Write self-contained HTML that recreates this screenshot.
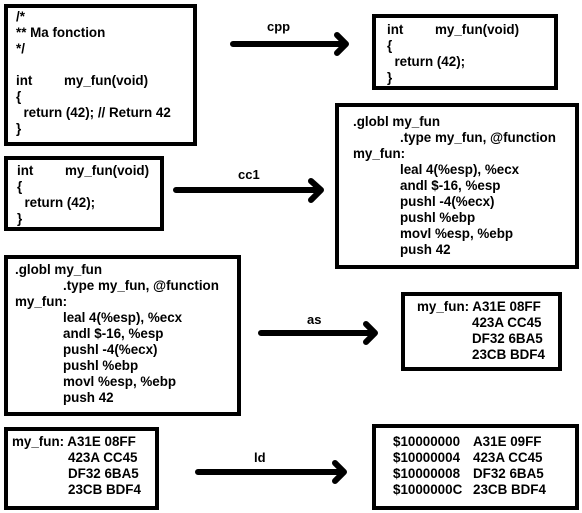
<!DOCTYPE html>
<html><head><style>
body{margin:0;width:582px;height:513px;background:#fff;position:relative;overflow:hidden;font-family:"Liberation Sans",sans-serif;font-weight:bold;font-size:13.4px;color:#000}
.b{position:absolute;border:4px solid #000;box-sizing:border-box;background:#fff}
.t{position:absolute;line-height:16px;width:240px}
.t div{height:16px;position:relative;white-space:pre}
.t span{position:absolute;top:0;white-space:pre}
.l{position:absolute;font-size:13px}
svg{position:absolute;left:0;top:0}
</style></head><body>
<div class="b" style="left:4px;top:4px;width:193px;height:142px"></div>
<div class="t" style="left:16px;top:9px"><div>/*</div><div>** Ma fonction</div><div>*/</div><div></div><div>int<span style="left:48px">my_fun(void)</span></div><div>{</div><div>  return (42); // Return 42</div><div>}</div></div>

<div class="b" style="left:4px;top:156px;width:160px;height:75px"></div>
<div class="t" style="left:17px;top:163px"><div>int<span style="left:48px">my_fun(void)</span></div><div>{</div><div>  return (42);</div><div>}</div></div>

<div class="b" style="left:372px;top:14px;width:186px;height:76px"></div>
<div class="t" style="left:387px;top:22px"><div>int<span style="left:48px">my_fun(void)</span></div><div>{</div><div>  return (42);</div><div>}</div></div>

<div class="b" style="left:335px;top:103px;width:244px;height:166px"></div>
<div class="t" style="left:353px;top:114px"><div>.globl my_fun</div><div><span style="left:47px">.type my_fun, @function</span></div><div>my_fun:</div><div><span style="left:47px">leal 4(%esp), %ecx</span></div><div><span style="left:47px">andl $-16, %esp</span></div><div><span style="left:47px">pushl -4(%ecx)</span></div><div><span style="left:47px">pushl %ebp</span></div><div><span style="left:47px">movl %esp, %ebp</span></div><div><span style="left:47px">push 42</span></div></div>

<div class="b" style="left:4px;top:255px;width:237px;height:161px"></div>
<div class="t" style="left:15px;top:262px"><div>.globl my_fun</div><div><span style="left:48px">.type my_fun, @function</span></div><div>my_fun:</div><div><span style="left:48px">leal 4(%esp), %ecx</span></div><div><span style="left:48px">andl $-16, %esp</span></div><div><span style="left:48px">pushl -4(%ecx)</span></div><div><span style="left:48px">pushl %ebp</span></div><div><span style="left:48px">movl %esp, %ebp</span></div><div><span style="left:48px">push 42</span></div></div>

<div class="b" style="left:401px;top:292px;width:161px;height:79px"></div>
<div class="t" style="left:417px;top:299px"><div>my_fun: A31E 08FF</div><div><span style="left:55px">423A CC45</span></div><div><span style="left:55px">DF32 6BA5</span></div><div><span style="left:55px">23CB BDF4</span></div></div>

<div class="b" style="left:4px;top:427px;width:155px;height:83px"></div>
<div class="t" style="left:12px;top:434px"><div>my_fun: A31E 08FF</div><div><span style="left:56px">423A CC45</span></div><div><span style="left:56px">DF32 6BA5</span></div><div><span style="left:56px">23CB BDF4</span></div></div>

<div class="b" style="left:372px;top:424px;width:207px;height:86px"></div>
<div class="t" style="left:393px;top:434px"><div>$10000000<span style="left:80px">A31E 09FF</span></div><div>$10000004<span style="left:80px">423A CC45</span></div><div>$10000008<span style="left:80px">DF32 6BA5</span></div><div>$1000000C<span style="left:80px">23CB BDF4</span></div></div>

<div class="l" style="left:267px;top:19px">cpp</div>
<div class="l" style="left:238px;top:167px">cc1</div>
<div class="l" style="left:307px;top:312px">as</div>
<div class="l" style="left:254px;top:450px">ld</div>
<svg width="582" height="513" fill="none" stroke="#000" stroke-width="6" stroke-linecap="round" stroke-linejoin="round">
<path d="M233 44H346M337 35L346 44L337 53"/>
<path d="M176 190H321M311 181L321 190L311 200"/>
<path d="M261 333H375M366 324L375 333L366 342"/>
<path d="M198 472H344M335 463L344 472L335 481"/>
</svg>
</body></html>
